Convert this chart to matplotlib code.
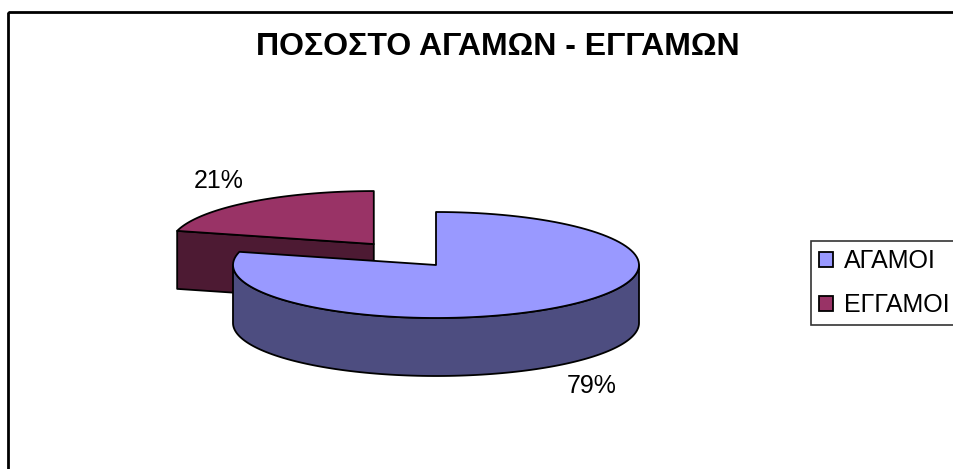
import numpy as np
import matplotlib.pyplot as plt
from matplotlib.patches import Polygon, Rectangle, Patch

# data
labels = ['ΑΓΑΜΟΙ', 'ΕΓΓΑΜΟΙ']
values = [79, 21]
top_colors = ['#9999ff', '#993366']
side_colors = ['#4d4d80', '#4d1a33']
explode = [0, 0.5]
title = 'ΠΟΣΟΣΤΟ ΑΓΑΜΩΝ - ΕΓΓΑΜΩΝ'

plt.rcParams['font.family'] = ['Liberation Sans', 'DejaVu Sans']

fig = plt.figure(figsize=(9.54, 4.69), dpi=100)
ax = fig.add_axes([0, 0, 1, 1])
ax.set_xlim(0, 954)
ax.set_ylim(469, 0)
ax.axis('off')

# pie geometry (pixels)
cx, cy = 436, 265
rx, ry = 203, 53
depth = 58
lw = 1.3


def arc(t0, t1, ox, oy, dz=0, n=120):
    t = np.radians(np.linspace(t0, t1, n))
    return np.column_stack([ox + rx * np.cos(t), oy - ry * np.sin(t) + dz])


total = sum(values)
slices = []
start = 90.0
for i, v in enumerate(values):
    a1 = start
    a0 = start - v / total * 360
    start = a0
    mid = np.radians((a0 + a1) / 2)
    ox = cx + explode[i] * rx * np.cos(mid)
    oy = cy - explode[i] * ry * np.sin(mid)
    slices.append((i, a0, a1, mid, ox, oy))

# back slices first
for i, a0, a1, mid, ox, oy in sorted(slices, key=lambda s: -np.sin(s[3])):
    # radial walls
    for a, nrm in ((a0, a0 - 90), (a1, a1 + 90)):
        if np.sin(np.radians(nrm)) < -1e-6:
            t = np.radians(a)
            px, py = ox + rx * np.cos(t), oy - ry * np.sin(t)
            wall = [(ox, oy), (px, py), (px, py + depth), (ox, oy + depth)]
            ax.add_patch(Polygon(wall, closed=True, fc=side_colors[i], ec='black', lw=lw, joinstyle='round'))
    # outer wall on the front half
    for k in range(-2, 2):
        lo, hi = max(a0, 180 + 360 * k), min(a1, 360 + 360 * k)
        if hi > lo:
            top = arc(lo, hi, ox, oy)
            bot = arc(lo, hi, ox, oy, depth)[::-1]
            ax.add_patch(Polygon(np.vstack([top, bot]), closed=True, fc=side_colors[i], ec='black', lw=lw, joinstyle='round'))
    # top face
    pts = np.vstack([[(ox, oy)], arc(a0, a1, ox, oy)])
    ax.add_patch(Polygon(pts, closed=True, fc=top_colors[i], ec='black', lw=lw, joinstyle='round'))

    # percent label
    c, s = np.cos(mid), np.sin(mid)
    lx = ox + 1.25 * rx * c
    ly = oy - 1.5 * ry * s + (depth if s < 0 else 0)
    ax.text(lx, ly, f'{values[i] / total:.0%}', ha='center', va='center', fontsize=18)

ax.text(498, 47, title, ha='center', va='center', fontsize=23, fontweight='bold')

# chart area border
ax.add_patch(Rectangle((8.5, 12.5), 1000, 500, fill=False, ec='black', lw=2, clip_on=False))

handles = [Patch(fc=c, ec='black', lw=1.3) for c in top_colors]
leg = ax.legend(handles, labels, loc='upper left', bbox_to_anchor=(811 / 954, 1 - 241 / 469),
                fontsize=18, frameon=True, fancybox=False, edgecolor='black',
                handlelength=0.55, handleheight=0.55, handletextpad=0.45, labelspacing=0.8,
                borderpad=0.32, borderaxespad=0)
leg.get_frame().set_linewidth(1.2)

fig.savefig('out.png', dpi=100)
